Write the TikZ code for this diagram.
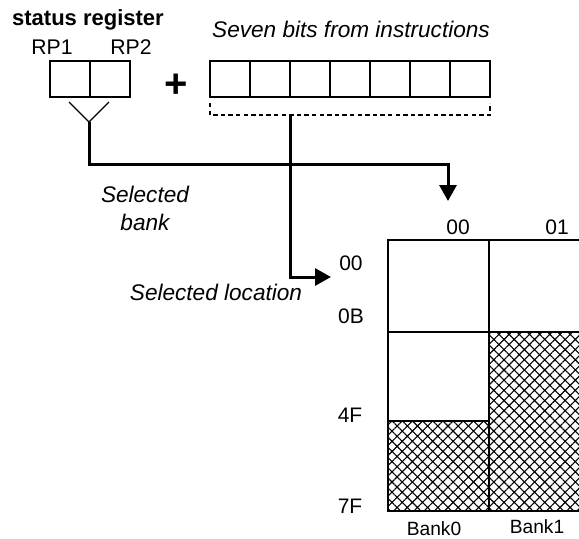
\documentclass[tikz,border=0pt]{standalone}
\usepackage{fontspec}
\setmainfont{Liberation Sans}
\usetikzlibrary{arrows.meta, positioning, calc, patterns.meta}
\tikzset{
  cell/.style ={rectangle, draw, line width=0.6pt, minimum width=20pt,
                minimum height=18pt, inner sep=0pt, outer sep=0pt},
  mem/.style  ={rectangle, draw, line width=0.6pt, minimum width=50.5pt,
                inner sep=0pt, outer sep=0pt, anchor=north},
  hatched/.style={pattern={Hatch[angle=45, distance=3.6pt, line width=0.55pt]}},
  bus/.style  ={line width=1.5pt},
  arr/.style  ={bus, -{Triangle[length=8pt, width=8.5pt]}},
  note/.style ={font=\fontsize{11.3}{14}\selectfont\itshape, align=center},
  lab/.style  ={font=\fontsize{10.5}{12}\selectfont, anchor=base, inner sep=0pt},
  small/.style={font=\fontsize{9.6}{11}\selectfont, anchor=base, inner sep=0pt}
}
\begin{document}
\begin{tikzpicture}[x=0.5pt, y=-0.5pt]
    \useasboundingbox (0,0) rectangle (579,538);
    % status register
    \node[anchor=base, inner sep=0pt, font=\fontsize{11}{13}\selectfont\bfseries] (title) at (88,25) {status register};
    \node[lab, font=\fontsize{10.6}{12}\selectfont] (rp1lbl) at (52,54) {RP1};
    \node[lab, font=\fontsize{10.6}{12}\selectfont] (rp2lbl) at (131,54) {RP2};
    \node[cell] (rp1) at (70,79) {};
    \node[cell, right=0pt of rp1] (rp2) {};
    \node[font=\fontsize{20}{20}\selectfont\bfseries, inner sep=0pt] (plus) at (176,86) {+};
    % seven bits
    \node[note, anchor=base, inner sep=0pt] (seven) at (351,37) {Seven bits from instructions};
    \node[cell] (b1) at (230,79) {};
    \foreach \i/\j in {2/1, 3/2, 4/3, 5/4, 6/5, 7/6}
      \node[cell, right=0pt of b\j] (b\i) {};
    \draw[line width=0.6pt, dash pattern=on 2.2pt off 1.6pt]
      ($(b1.south west)+(0,6)$) -- ($(b1.south west)+(0,18)$) -| ($(b7.south east)+(0,6)$);
    % bank select
    \coordinate (arm1) at ($(rp1.south)+(-1,5)$);
    \coordinate (arm2) at ($(rp2.south)+(-1,5)$);
    \coordinate (fork) at (89,122);
    \draw[line width=0.6pt] (arm1) -- (fork) -- (arm2);
    \coordinate (bankbus) at (448,164);
    \coordinate (bankin) at (448,201);
    \draw[arr] (fork) |- (bankbus) -- (bankin);
    % location select
    \coordinate (tap) at ($(b3.south west)+(0,18)$);
    \coordinate (locin) at (331,277);
    \draw[arr] (tap) |- (locin);
    \node[note] (selbank) at (145,208) {Selected\\bank};
    \node[note, anchor=base, inner sep=0pt] (selloc) at (216,300) {Selected location};
    % memory
    \node[mem, anchor=north west, minimum height=46pt] (m0a) at (388,240) {};
    \node[mem, below=0pt of m0a, minimum height=44.5pt] (m0b) {};
    \node[mem, below=0pt of m0b, minimum height=45pt, hatched] (m0c) {};
    \node[mem, anchor=north west, minimum width=46pt, minimum height=46pt] (m1a) at (m0a.north east) {};
    \node[mem, below=0pt of m1a, minimum width=46pt, minimum height=89.5pt, hatched] (m1b) {};
    \node[lab] (c00) at (458,234) {00};
    \node[lab] (c01) at (557,234) {01};
    \node[lab] (r00) at (351,270) {00};
    \node[lab] (r0B) at (351,323) {0B};
    \node[lab] (r4F) at (350,422) {4F};
    \node[lab] (r7F) at (350,513) {7F};
    \node[small] (bank0) at (434,535) {Bank0};
    \node[small] (bank1) at (537,533) {Bank1};
\end{tikzpicture}
\end{document}
